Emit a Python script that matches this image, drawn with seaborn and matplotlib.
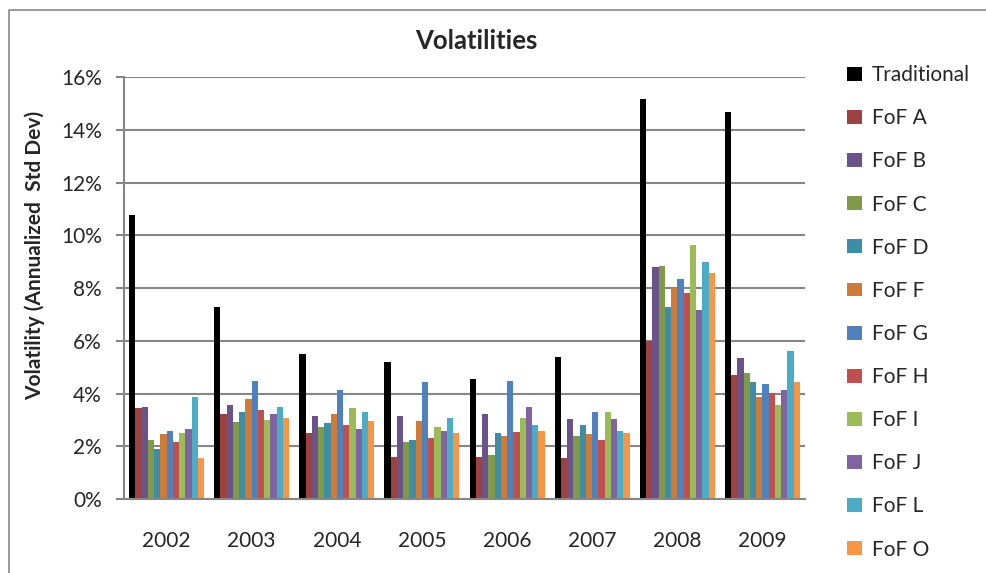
import pandas as pd
import matplotlib.pyplot as plt
import matplotlib.lines as mlines
import seaborn as sns
from matplotlib.ticker import PercentFormatter

# Data (in %)
years = ['2002', '2003', '2004', '2005', '2006', '2007', '2008', '2009']
series = ['Traditional', 'FoF A', 'FoF B', 'FoF C', 'FoF D', 'FoF F',
          'FoF G', 'FoF H', 'FoF I', 'FoF J', 'FoF L', 'FoF O']

traditional = [10.75, 7.28, 5.50, 5.19, 4.55, 5.38, 15.17, 14.67]
fof_a = [3.45, 3.22, 2.50, 1.60, 1.60, 1.55, 5.99, 4.70]
fof_b = [3.50, 3.56, 3.15, 3.15, 3.22, 3.03, 8.80, 5.35]
fof_c = [2.24, 2.92, 2.73, 2.16, 1.67, 2.39, 8.83, 4.78]
fof_d = [1.90, 3.30, 2.88, 2.24, 2.50, 2.80, 7.28, 4.43]
fof_f = [2.46, 3.79, 3.22, 2.95, 2.39, 2.46, 8.00, 3.87]
fof_g = [2.58, 4.47, 4.13, 4.43, 4.47, 3.30, 8.34, 4.36]
fof_h = [2.16, 3.37, 2.80, 2.31, 2.54, 2.24, 7.81, 4.02]
fof_i = [2.50, 3.00, 3.45, 2.73, 3.07, 3.30, 9.63, 3.56]
fof_j = [2.65, 3.22, 2.65, 2.58, 3.49, 3.03, 7.17, 4.13]
fof_l = [3.87, 3.49, 3.30, 3.07, 2.80, 2.58, 8.99, 5.61]
fof_o = [1.55, 3.07, 2.95, 2.50, 2.58, 2.50, 8.57, 4.43]

colors = ['#000000', '#9C4240', '#6A5388', '#7F9A48', '#3E8DA4', '#CF7B37',
          '#4F81BD', '#C0504D', '#9BBB59', '#8064A2', '#4BACC6', '#F79646']

values = [traditional, fof_a, fof_b, fof_c, fof_d, fof_f,
          fof_g, fof_h, fof_i, fof_j, fof_l, fof_o]
rows = []
for name, vals in zip(series, values):
    for yr, v in zip(years, vals):
        rows.append({'Year': yr, 'Series': name, 'Vol': v})
df = pd.DataFrame(rows)

sns.set_style("white")
plt.rcParams['font.family'] = ['Lato', 'DejaVu Sans']

fig = plt.figure(figsize=(9.87, 5.73), dpi=100)
ax = fig.add_axes([0.1256, 0.1291, 0.69, 0.7365])

sns.barplot(data=df, x='Year', y='Vol', hue='Series', hue_order=series,
            order=years, palette=colors, saturation=1, width=0.88,
            errorbar=None, linewidth=0, edgecolor='none', ax=ax)

grid_c = '#868686'
ax.set_ylim(0, 16)
ax.set_yticks(range(0, 17, 2))
ax.yaxis.set_major_formatter(PercentFormatter(decimals=0))
ax.set_xlim(-0.5, len(years) - 0.5)
ax.grid(axis='y', color=grid_c, linewidth=1.5)
ax.set_axisbelow(True)
for s in ['top', 'right']:
    ax.spines[s].set_visible(False)
for s in ['left', 'bottom']:
    ax.spines[s].set_color(grid_c)
    ax.spines[s].set_linewidth(1.5)

# x tick marks between groups, labels in the middle
ax.set_xticks([i - 0.5 for i in range(len(years) + 1)], minor=True)
ax.tick_params(axis='x', which='minor', length=7, width=1.5, color=grid_c, direction='out')
ax.tick_params(axis='x', which='major', length=0, pad=23, labelsize=15)
ax.tick_params(axis='y', length=6, width=1.5, color=grid_c, pad=10, labelsize=15, left=True)

ax.set_xlabel('')
ax.set_ylabel('')
fig.text(35 / 987, 1 - 255 / 573, 'Volatility (Annualized  Std Dev)', rotation=90,
         ha='center', va='center', fontsize=15, fontweight='bold')
fig.text(476 / 987, 1 - 41 / 573, 'Volatilities', ha='center', va='center',
         fontsize=18.5, fontweight='bold')

handles, labels = ax.get_legend_handles_labels()
ax.legend(handles, labels, loc='upper left', bbox_to_anchor=(1.062, 1.028),
          frameon=False, fontsize=15, labelspacing=1.11, handlelength=0.72,
          handleheight=0.65, handletextpad=0.48, borderaxespad=0, borderpad=0)

# chart area border (left and top visible)
fig.add_artist(mlines.Line2D([9 / 987, 9 / 987, 1.0], [0.0, 1 - 10 / 573, 1 - 10 / 573],
                             transform=fig.transFigure, color=grid_c, linewidth=1.2))

fig.savefig('out.png', dpi=100)
